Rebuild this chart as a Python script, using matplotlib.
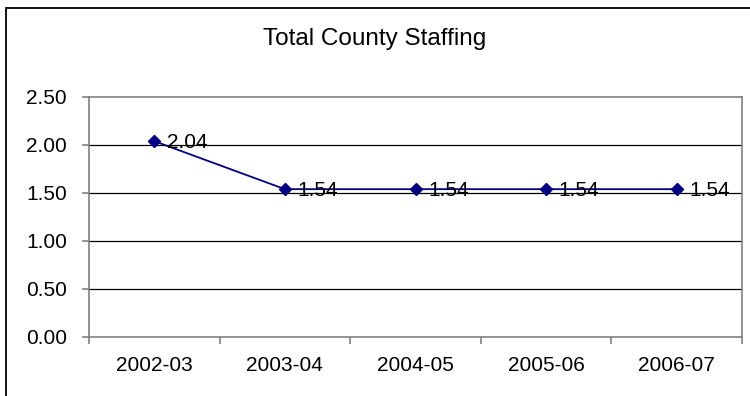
import numpy as np
import matplotlib.pyplot as plt
from matplotlib.patches import Rectangle

plt.rcParams['font.family'] = ['Liberation Sans', 'DejaVu Sans']

years = ['2002-03', '2003-04', '2004-05', '2005-06', '2006-07']
staffing = [2.04, 1.54, 1.54, 1.54, 1.54]
y_ticks = [0.0, 0.5, 1.0, 1.5, 2.0, 2.5]

fig = plt.figure(figsize=(7.5, 3.96), dpi=100)
ax = fig.add_axes([89/750, 1 - 337/396, (742 - 89)/750, (337 - 97)/396])

# outer chart border (right and bottom edges fall outside the image)
fig.patches.append(Rectangle((6/750, -0.05), 1.0, 1 - 8/396 + 0.05,
                             transform=fig.transFigure, fill=False,
                             edgecolor='black', linewidth=1.3))

x = np.arange(len(years))
for t in y_ticks[1:-1]:
    ax.axhline(t, color='black', linewidth=0.9, zorder=1)
ax.plot(x, staffing, color='#000080', marker='D', markersize=6, linewidth=1.3, zorder=3)
for xi, v in zip(x, staffing):
    ax.annotate(f'{v:.2f}', (xi, v), xytext=(9, -1), textcoords='offset points',
                va='center', ha='left', fontsize=15, zorder=4)

ax.set_xlim(-0.5, len(years) - 0.5)
ax.set_ylim(0, 2.5)
ax.set_yticks(y_ticks)
ax.set_yticklabels([f'{t:.2f}' for t in y_ticks], fontsize=15)
ax.set_xticks(x)
ax.set_xticklabels(years, fontsize=15)
ax.tick_params(axis='x', which='major', length=0, pad=14)
ax.set_xticks(np.arange(-0.5, len(years)), minor=True)
ax.tick_params(axis='x', which='minor', length=5, color='#808080', width=1.2, direction='out')
ax.tick_params(axis='y', length=5, color='#808080', width=1.2, pad=11)
for s in ax.spines.values():
    s.set_color('#808080')
    s.set_linewidth(1.2)

fig.text(375/750, 1 - 39/396, 'Total County Staffing', ha='center', va='center', fontsize=17.5)

fig.savefig('out.png', dpi=100)
